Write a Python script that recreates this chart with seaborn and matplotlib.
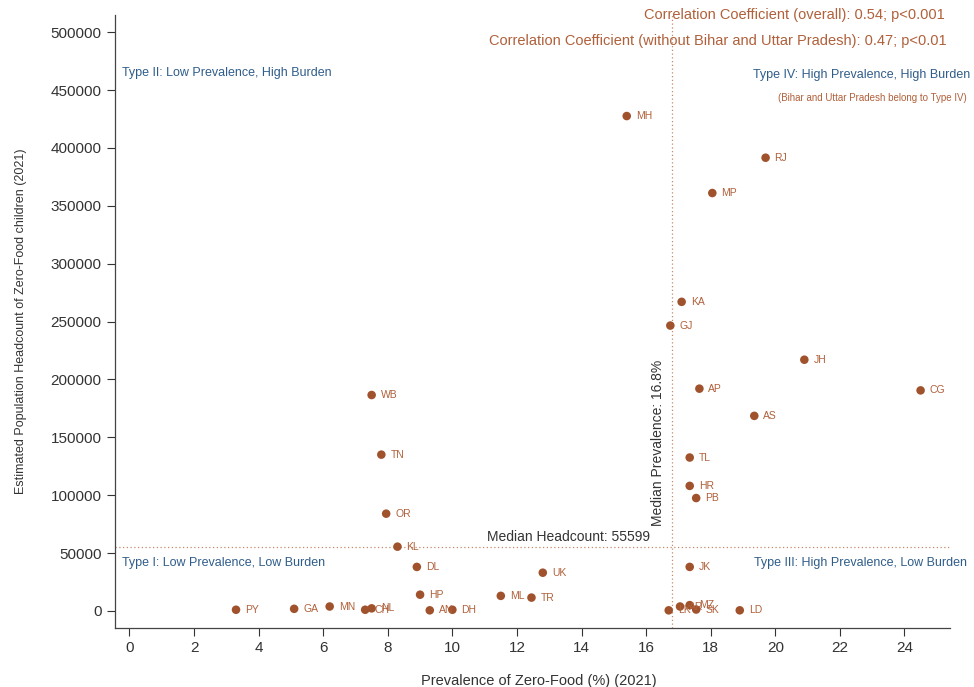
import matplotlib
matplotlib.use("Agg")
import matplotlib.pyplot as plt
import seaborn as sns
import pandas as pd

# State-level zero-food prevalence (%) and estimated headcount, 2021
states = ["MH", "RJ", "MP", "KA", "GJ", "JH", "AP", "CG", "WB", "AS",
          "TN", "TL", "HR", "PB", "OR", "KL", "DL", "UK", "JK", "HP",
          "ML", "TR", "MN", "PY", "GA", "CH", "NL", "AN", "DH", "LK",
          "AR", "MZ", "SK", "LD"]
prevalence = [15.4, 19.7, 18.05, 17.1, 16.75, 20.9, 17.65, 24.5, 7.5, 19.35,
              7.8, 17.35, 17.35, 17.55, 7.95, 8.3, 8.9, 12.8, 17.35, 9.0,
              11.5, 12.45, 6.2, 3.3, 5.1, 7.3, 7.5, 9.3, 10.0, 16.7,
              17.05, 17.35, 17.55, 18.9]
headcount = [427500, 391500, 361000, 267000, 246500, 217000, 192000, 190500, 186500, 168500,
             135000, 132500, 108000, 97500, 84000, 55500, 38000, 33000, 38000, 14000,
             13000, 11500, 3800, 1000, 1800, 1000, 2200, 500, 1000, 500,
             3800, 5000, 1200, 500]

median_prevalence = 16.8
median_headcount = 55599

x_ticks = list(range(0, 25, 2))
y_ticks = list(range(0, 500001, 50000))

df = pd.DataFrame({"state": states, "prev": prevalence, "head": headcount})

sns.set_style("ticks")
plt.rcParams["font.family"] = ["Liberation Sans", "DejaVu Sans"]

point_color = "#a0522d"
label_color = "#b0603a"
quad_color = "#2f5d8a"
text_grey = "#333333"

fig = plt.figure(figsize=(9.74, 6.87), dpi=100)
ax = fig.add_axes([0.118, 0.086, 0.857, 0.892])

sns.scatterplot(data=df, x="prev", y="head", ax=ax, color=point_color,
                s=38, edgecolor="none", zorder=3)

for s, px, py in zip(states, prevalence, headcount):
    ax.annotate(s, (px, py), xytext=(6.5, 0), textcoords="offset points",
                ha="left", va="center", fontsize=7.5, color=label_color, zorder=4)

# Median reference lines
ax.axvline(median_prevalence, color="#c8896a", linestyle=(0, (1, 2)), linewidth=0.9, zorder=1)
ax.axhline(median_headcount, color="#c8896a", linestyle=(0, (1, 2)), linewidth=0.9, zorder=1)
ax.text(13.6, median_headcount + 2500, f"Median Headcount: {median_headcount}",
        ha="center", va="bottom", fontsize=10, color=text_grey)
ax.text(median_prevalence - 0.2, 145000, f"Median Prevalence: {median_prevalence}%",
        rotation=90, ha="right", va="center", fontsize=10, color=text_grey)

ax.set_xlim(-0.45, 25.4)
ax.set_ylim(-14700, 514700)
ax.set_xticks(x_ticks)
ax.set_yticks(y_ticks)
ax.tick_params(axis="both", labelsize=11, colors=text_grey, length=6, width=0.8)
ax.set_xlabel("Prevalence of Zero-Food (%) (2021)", fontsize=10.5, color=text_grey,
              labelpad=12)
ax.xaxis.set_label_coords(0.508, -0.075)
ax.set_ylabel("Estimated Population Headcount of Zero-Food children (2021)", fontsize=9,
              color=text_grey, labelpad=17)
sns.despine(ax=ax)
for sp in ("left", "bottom"):
    ax.spines[sp].set_color("#444444")
    ax.spines[sp].set_linewidth(0.9)

# Quadrant annotations
fig.text(122 / 974, 1 - 73 / 687, "Type II: Low Prevalence, High Burden",
         ha="left", va="center", fontsize=9, color=quad_color)
fig.text(970 / 974, 1 - 75 / 687, "Type IV: High Prevalence, High Burden",
         ha="right", va="center", fontsize=9, color=quad_color)
fig.text(967 / 974, 1 - 98 / 687, "(Bihar and Uttar Pradesh belong to Type IV)",
         ha="right", va="center", fontsize=7, color=label_color)
fig.text(122 / 974, 1 - 563 / 687, "Type I: Low Prevalence, Low Burden",
         ha="left", va="center", fontsize=9, color=quad_color)
fig.text(967 / 974, 1 - 563 / 687, "Type III: High Prevalence, Low Burden",
         ha="right", va="center", fontsize=9, color=quad_color)

# Correlation summary
fig.text(945 / 974, 1 - 15 / 687, "Correlation Coefficient (overall): 0.54; p<0.001",
         ha="right", va="center", fontsize=10.5, color=label_color)
fig.text(947 / 974, 1 - 41 / 687,
         "Correlation Coefficient (without Bihar and Uttar Pradesh): 0.47; p<0.01",
         ha="right", va="center", fontsize=10.5, color=label_color)

fig.savefig("out.png", dpi=100)
